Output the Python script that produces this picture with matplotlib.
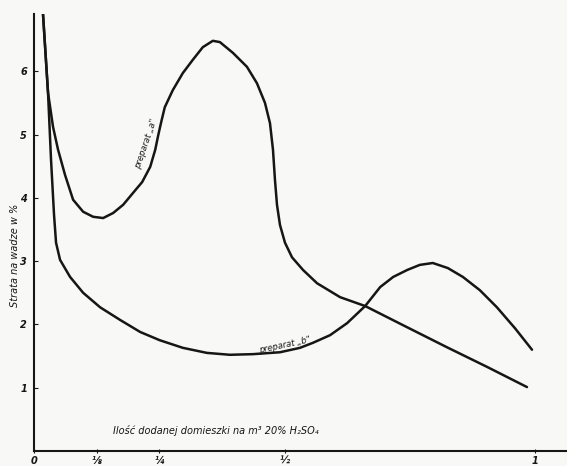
import matplotlib
matplotlib.use("Agg")
import matplotlib.pyplot as plt

# preparat "a"
a_x = [0.018, 0.028, 0.038, 0.048, 0.062, 0.078, 0.098, 0.118, 0.138, 0.158, 0.178, 0.198,
       0.216, 0.232, 0.242, 0.248, 0.254, 0.261, 0.277, 0.297, 0.317, 0.337, 0.357, 0.371,
       0.397, 0.425, 0.445, 0.461, 0.471, 0.477, 0.481, 0.485, 0.491, 0.501, 0.515, 0.537,
       0.565, 0.611, 0.661, 0.741, 0.824, 0.904, 0.984]
a_y = [6.90, 5.66, 5.12, 4.76, 4.36, 3.97, 3.78, 3.70, 3.68, 3.76, 3.89, 4.08,
       4.25, 4.49, 4.76, 4.99, 5.20, 5.43, 5.70, 5.97, 6.18, 6.38, 6.48, 6.46,
       6.29, 6.07, 5.81, 5.50, 5.18, 4.76, 4.28, 3.89, 3.57, 3.29, 3.06, 2.86,
       2.65, 2.43, 2.29, 1.97, 1.64, 1.33, 1.01]

# preparat "b"
b_x = [0.018, 0.028, 0.034, 0.040, 0.044, 0.052, 0.072, 0.098, 0.132, 0.172, 0.212, 0.251,
       0.297, 0.345, 0.391, 0.437, 0.491, 0.531, 0.557, 0.591, 0.625, 0.661, 0.691, 0.717,
       0.745, 0.770, 0.796, 0.826, 0.856, 0.890, 0.924, 0.960, 0.994]
b_y = [6.90, 5.66, 4.60, 3.73, 3.29, 3.02, 2.75, 2.50, 2.27, 2.07, 1.88, 1.75,
       1.63, 1.55, 1.52, 1.53, 1.56, 1.63, 1.71, 1.83, 2.02, 2.29, 2.59, 2.75,
       2.86, 2.94, 2.97, 2.89, 2.75, 2.54, 2.27, 1.94, 1.60]

x_ticks = [0, 1/8, 1/4, 1/2, 1]
x_labels = ["0", "⅛", "¼", "½", "1"]
y_ticks = [1, 2, 3, 4, 5, 6]

bg = "#f8f8f6"
ink = "#161616"

fig = plt.figure(figsize=(5.67, 4.66), dpi=100, facecolor=bg)
ax = fig.add_axes([34/567, 1 - 451/466, 1 - 34/567, (451 - 14)/466], facecolor=bg)

ax.plot(a_x, a_y, color=ink, lw=1.8, solid_joinstyle="round", solid_capstyle="round")
ax.plot(b_x, b_y, color=ink, lw=1.8, solid_joinstyle="round", solid_capstyle="round")

ax.set_xlim(0, (567 - 34) / 501)
ax.set_ylim(0, (451 - 14) / 63.3)

for s in ["top", "right"]:
    ax.spines[s].set_visible(False)
ax.spines["left"].set_linewidth(1.5)
ax.spines["bottom"].set_linewidth(1.5)
ax.spines["left"].set_color(ink)
ax.spines["bottom"].set_color(ink)

ax.set_xticks(x_ticks)
ax.set_xticklabels(x_labels, fontsize=7, fontstyle="italic", fontweight="bold", color=ink)
ax.set_yticks(y_ticks)
ax.set_yticklabels([str(v) for v in y_ticks], fontsize=7, fontstyle="italic", fontweight="bold", color=ink)
ax.tick_params(axis="y", direction="in", length=3, width=0.8, pad=5, colors=ink)
ax.tick_params(axis="x", direction="inout", length=3, width=0.8, pad=2, colors=ink)

fig.text(15/567, 1 - 255/466, "Strata na wadze w %", rotation=90, fontsize=7,
         fontstyle="italic", color=ink, ha="center", va="center")
ax.text(0.158, 0.32, "Ilość dodanej domieszki na m³ 20% H₂SO₄", fontsize=7,
        fontstyle="italic", color=ink, ha="left", va="center")

ax.text(0.224, 4.85, "preparat „a\"", rotation=71, fontsize=6, fontstyle="italic",
        color=ink, ha="center", va="center")
ax.text(0.501, 1.68, "preparat „b\"", rotation=12, fontsize=6, fontstyle="italic",
        color=ink, ha="center", va="center")

plt.savefig("out.png", dpi=100, facecolor=bg)
